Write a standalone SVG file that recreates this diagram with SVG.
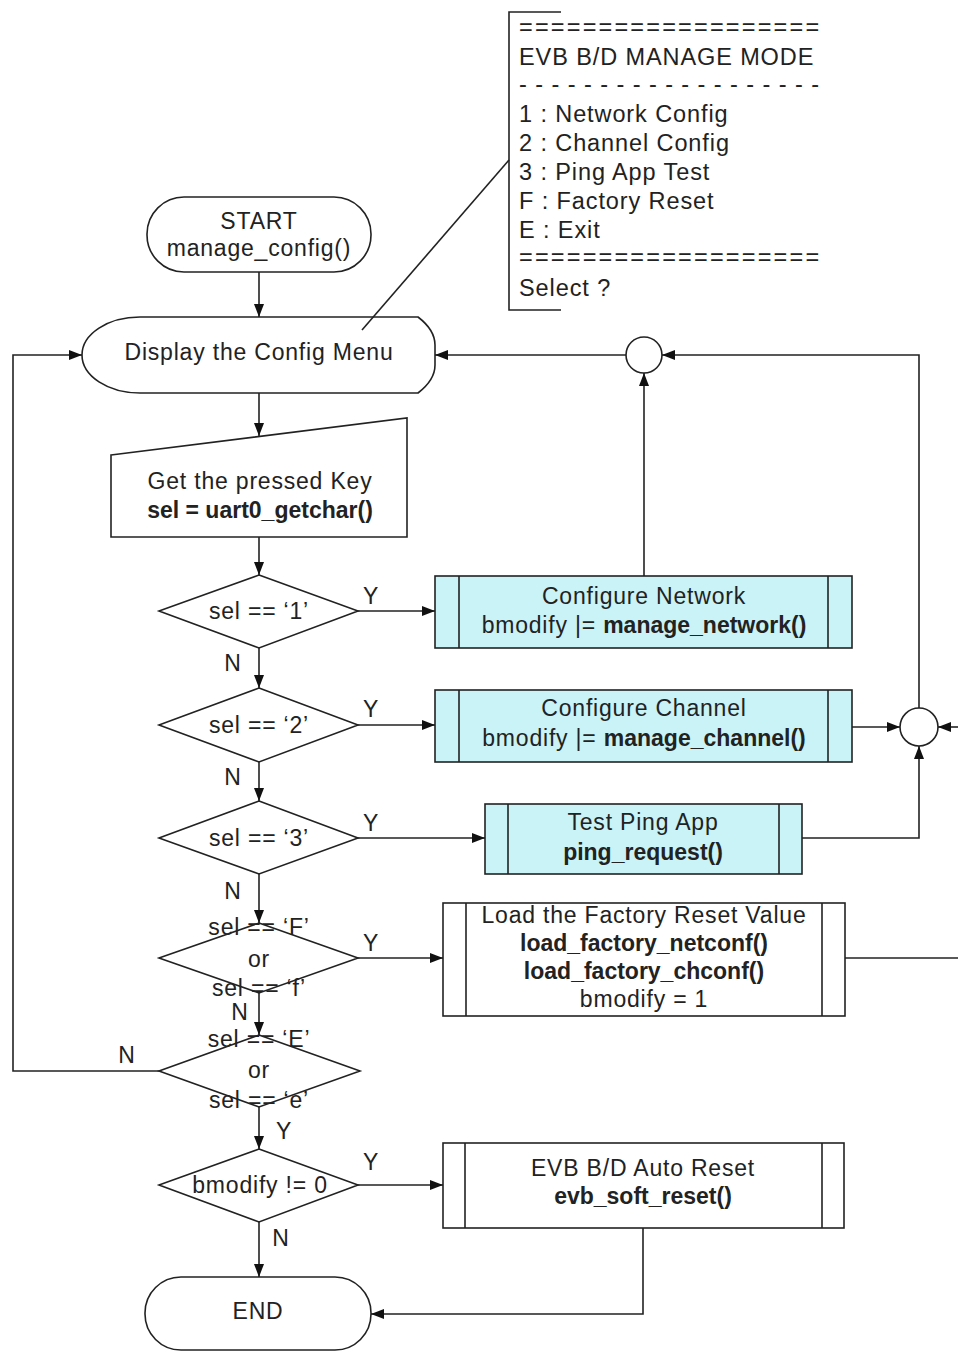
<svg xmlns="http://www.w3.org/2000/svg" width="958" height="1351" viewBox="0 0 958 1351">
<style>
text{font-family:"Liberation Sans","DejaVu Sans",sans-serif;fill:#222;font-size:23px;letter-spacing:0.8px}
.c{text-anchor:middle}
.b{font-weight:bold;letter-spacing:0}
.m{font-size:23.5px;letter-spacing:0.9px}
.s{fill:none;stroke:#222;stroke-width:1.6}
.w{fill:#fff;stroke:#222;stroke-width:1.6}
.p{fill:#c9f3f7;stroke:#222;stroke-width:1.6}
.ln{fill:none;stroke:#222;stroke-width:1.6}
.a{fill:none;stroke:#222;stroke-width:1.6;marker-end:url(#ah)}
</style>
<defs>
<marker id="ah" viewBox="0 0 13 10" refX="13" refY="5" markerWidth="13" markerHeight="10" markerUnits="userSpaceOnUse" orient="auto">
<path d="M0,0 L13,5 L0,10 z" fill="#111"/>
</marker>
</defs>
<rect width="958" height="1351" fill="#fff"/>

<g id="menu-note">
<path class="s" d="M561,12 L509,12 L509,310 L561,310"/>
<text x="519" y="35" class="m" textLength="301" lengthAdjust="spacing">===================</text>
<text x="519" y="65" class="m">EVB B/D MANAGE MODE</text>
<text x="519" y="92" class="m" textLength="301" lengthAdjust="spacing">-------------------</text>
<text x="519" y="122" class="m">1 : Network Config</text>
<text x="519" y="151" class="m">2 : Channel Config</text>
<text x="519" y="180" class="m">3 : Ping App Test</text>
<text x="519" y="209" class="m">F : Factory Reset</text>
<text x="519" y="238" class="m">E : Exit</text>
<text x="519" y="265" class="m" textLength="301" lengthAdjust="spacing">===================</text>
<text x="519" y="296" class="m">Select ?</text>
</g>

<g id="start">
<rect class="w" x="147" y="197" width="224" height="75" rx="37"/>
<text x="259" y="229" class="c">START</text>
<text x="259" y="256" class="c">manage_config()</text>
</g>

<g id="display-menu">
<path class="w" d="M140,317 L418,317 Q435,330 435,345 L435,365 Q435,380 418,393 L140,393 A58,38 0 0 1 140,317 Z"/>
<text x="259" y="360" class="c">Display the Config Menu</text>
</g>

<g id="get-key">
<path class="w" d="M111,455 L407,418 L407,537 L111,537 Z"/>
<text x="260" y="489" class="c">Get the pressed Key</text>
<text x="260" y="518" class="c b">sel = uart0_getchar()</text>
</g>

<g id="dec-1">
<path class="w" d="M259,575 L358,611 L259,648 L159,611 Z"/>
<text x="259" y="619" class="c">sel == ‘1’</text>
</g>
<g id="dec-2">
<path class="w" d="M259,688 L358,725 L259,762 L159,725 Z"/>
<text x="259" y="733" class="c">sel == ‘2’</text>
</g>
<g id="dec-3">
<path class="w" d="M259,801 L358,838 L259,874 L159,838 Z"/>
<text x="259" y="846" class="c">sel == ‘3’</text>
</g>
<g id="dec-f">
<path class="w" d="M259,923 L358,958 L259,993 L159,958 Z"/>
<text x="259" y="935" class="c">sel == ‘F’</text>
<text x="259" y="967" class="c">or</text>
<text x="259" y="996" class="c">sel == ‘f’</text>
</g>
<g id="dec-e">
<path class="w" d="M259,1035 L360,1071 L259,1107 L159,1071 Z"/>
<text x="259" y="1047" class="c">sel == ‘E’</text>
<text x="259" y="1078" class="c">or</text>
<text x="259" y="1108" class="c">sel == ‘e’</text>
</g>
<g id="dec-bmodify">
<path class="w" d="M259,1149 L358,1185 L259,1222 L159,1185 Z"/>
<text x="260" y="1193" class="c">bmodify != 0</text>
</g>

<g id="cfg-network">
<rect class="p" x="435" y="576" width="417" height="72"/>
<path class="ln" d="M459,576 V648 M828,576 V648"/>
<text x="644" y="604" class="c">Configure Network</text>
<text x="644" y="633" class="c">bmodify  |= <tspan class="b">manage_network()</tspan></text>
</g>
<g id="cfg-channel">
<rect class="p" x="435" y="690" width="417" height="72"/>
<path class="ln" d="M459,690 V762 M828,690 V762"/>
<text x="644" y="716" class="c">Configure Channel</text>
<text x="644" y="746" class="c">bmodify  |= <tspan class="b">manage_channel()</tspan></text>
</g>
<g id="ping-test">
<rect class="p" x="485" y="804" width="317" height="70"/>
<path class="ln" d="M508,804 V874 M779,804 V874"/>
<text x="643" y="830" class="c">Test Ping App</text>
<text x="643" y="860" class="c b">ping_request()</text>
</g>
<g id="factory-reset">
<rect class="w" x="443" y="903" width="402" height="113"/>
<path class="ln" d="M466,903 V1016 M822,903 V1016"/>
<text x="644" y="923" class="c">Load the Factory Reset Value</text>
<text x="644" y="951" class="c b">load_factory_netconf()</text>
<text x="644" y="979" class="c b">load_factory_chconf()</text>
<text x="644" y="1007" class="c">bmodify = 1</text>
</g>
<g id="auto-reset">
<rect class="w" x="443" y="1143" width="401" height="85"/>
<path class="ln" d="M465,1143 V1228 M822,1143 V1228"/>
<text x="643" y="1176" class="c">EVB B/D  Auto Reset</text>
<text x="643" y="1204" class="c b">evb_soft_reset()</text>
</g>
<g id="end">
<rect class="w" x="145" y="1277" width="226" height="73" rx="36"/>
<text x="258" y="1319" class="c">END</text>
</g>
<g id="join-top">
<circle class="w" cx="644" cy="355" r="18"/>
</g>
<g id="join-right">
<circle class="w" cx="919" cy="727" r="19"/>
</g>

<g id="connectors">
<path class="ln" d="M362,330 L509,160"/>
<path class="a" d="M259,272 V317"/>
<path class="a" d="M259,393 V436"/>
<path class="a" d="M259,537 V575"/>
<path class="a" d="M259,648 V688"/>
<path class="a" d="M259,762 V801"/>
<path class="a" d="M259,874 V923"/>
<path class="a" d="M259,993 V1035"/>
<path class="a" d="M259,1107 V1149"/>
<path class="a" d="M259,1222 V1277"/>
<path class="a" d="M358,611 H435"/>
<path class="a" d="M358,725 H435"/>
<path class="a" d="M358,838 H485"/>
<path class="a" d="M358,958 H443"/>
<path class="a" d="M358,1185 H443"/>
<path class="a" d="M644,576 V373"/>
<path class="a" d="M626,355 H435"/>
<path class="a" d="M919,708 V355 H662"/>
<path class="a" d="M852,727 H900"/>
<path class="a" d="M802,838 H919 V746"/>
<path class="ln" d="M845,958 H958"/>
<path class="a" d="M958,727 H938"/>
<path class="a" d="M159,1071 H13 V355 H82"/>
<path class="a" d="M643,1228 V1314 H371"/>
<text x="371" y="604" class="c">Y</text>
<text x="233" y="671" class="c">N</text>
<text x="371" y="717" class="c">Y</text>
<text x="233" y="785" class="c">N</text>
<text x="371" y="831" class="c">Y</text>
<text x="233" y="899" class="c">N</text>
<text x="371" y="951" class="c">Y</text>
<text x="240" y="1020" class="c">N</text>
<text x="127" y="1063" class="c">N</text>
<text x="284" y="1139" class="c">Y</text>
<text x="371" y="1170" class="c">Y</text>
<text x="281" y="1246" class="c">N</text>
</g>
</svg>
